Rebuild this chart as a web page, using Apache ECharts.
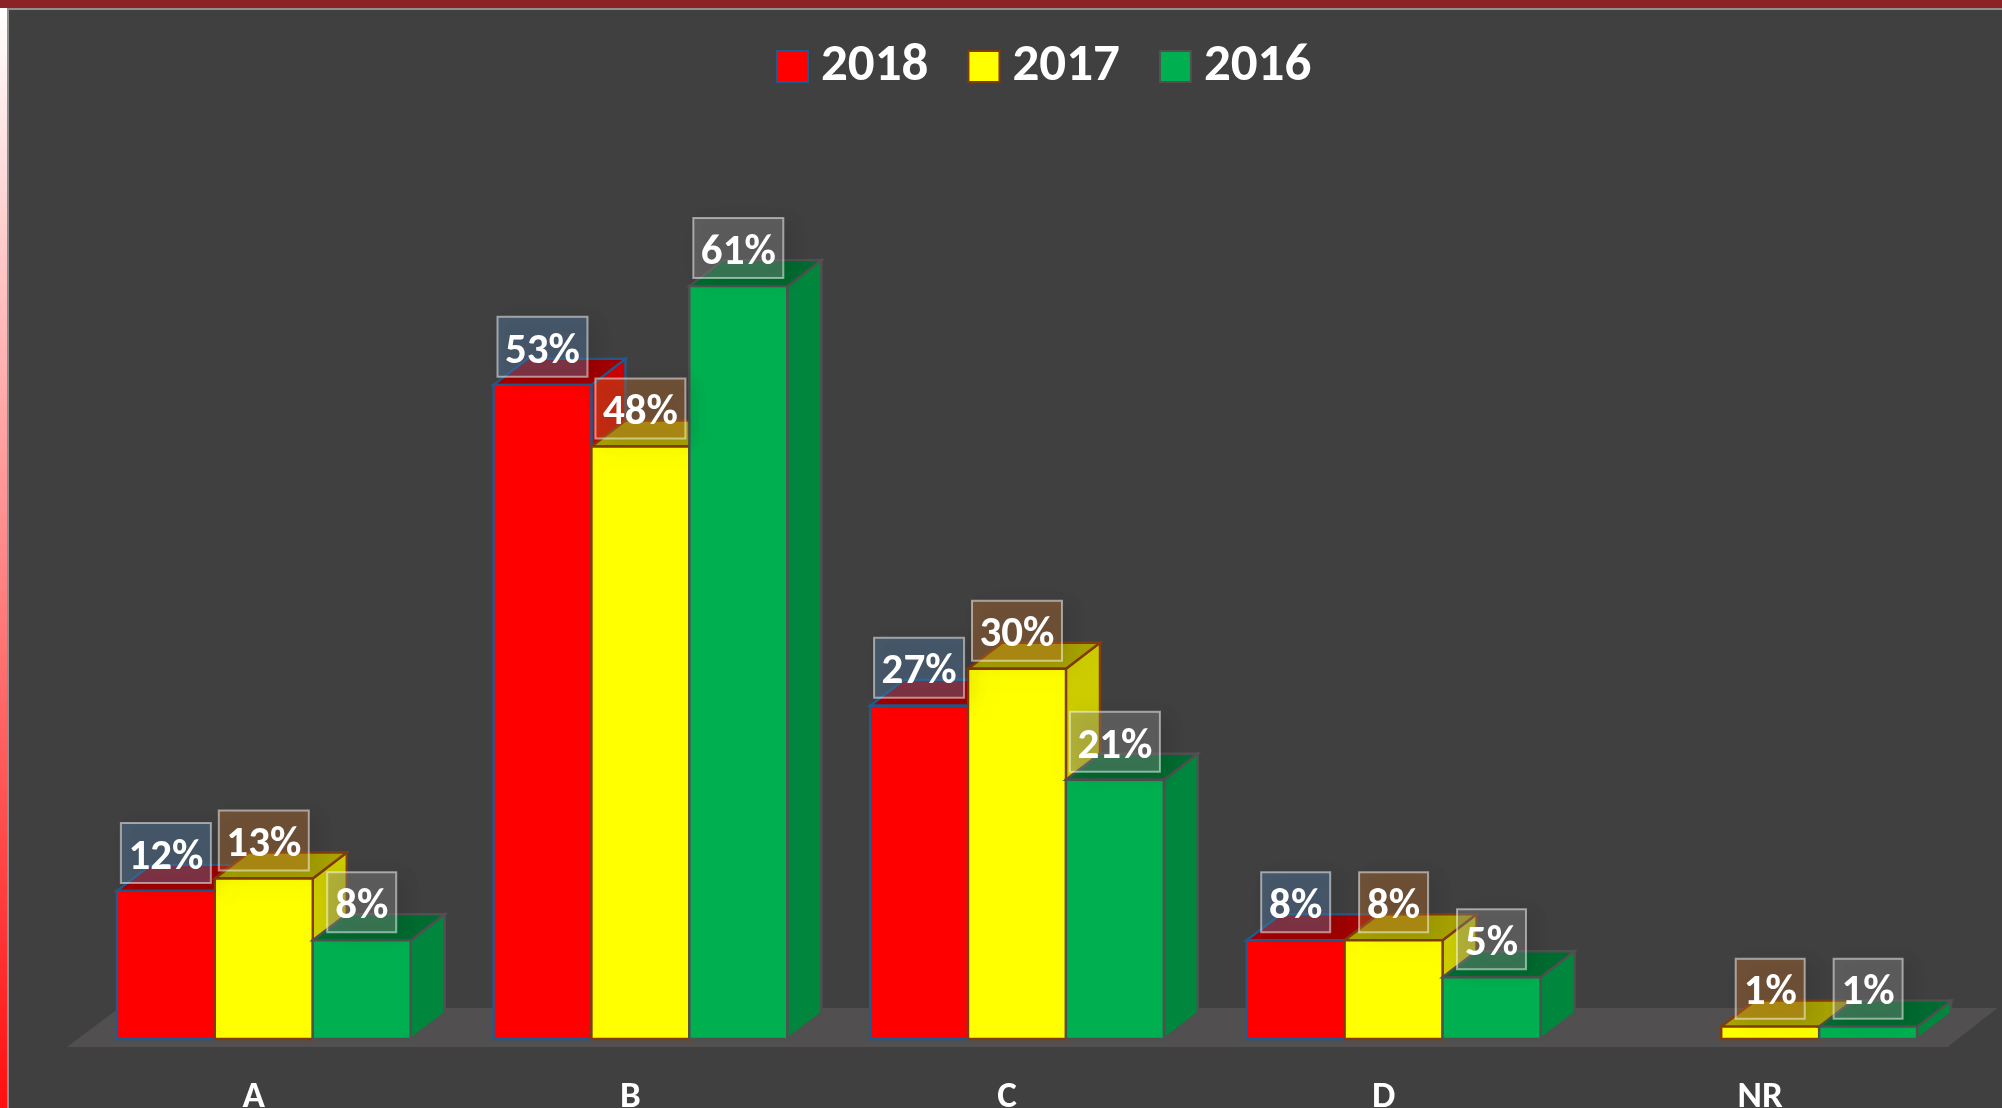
<!DOCTYPE html>
<html><head><meta charset="utf-8">
<style>html,body{margin:0;padding:0;background:#404040}#c{width:2002px;height:1108px}</style>
<script src="https://cdn.jsdelivr.net/npm/echarts@6/dist/echarts.min.js"></script>
</head><body><div id="c"></div>
<script>
const categories = ['A','B','C','D','NR'];
const years = ['2018','2017','2016'];
const values2018 = [12,53,27,8,null];
const values2017 = [13,48,30,8,1];
const values2016 = [8,61,21,5,1];
const seriesValues = [values2018, values2017, values2016];
const FONT = 'Carlito, Lato, sans-serif';
const palette = [
 {front:'#ff0000', top:'#a30000', side:'#cf0000', edge:'#215a8c', box:'rgba(82,128,172,0.39)'},
 {front:'#ffff00', top:'#a8a300', side:'#cccc00', edge:'#843c0c', box:'rgba(187,110,46,0.39)'},
 {front:'#00b050', top:'#006b30', side:'#00873d', edge:'#505050', box:'rgba(141,141,141,0.39)'}
];
const DX = 34, DY = 26, BAR_RATIO = 0.26;

function barGeom(api, s){
  const p = api.coord([api.value(0), api.value(1)]);
  const base = api.coord([api.value(0), 0]);
  const w = api.size([1,0])[0] * BAR_RATIO;
  return {x: p[0] + (s-1.5)*w, y: p[1], w, b: base[1]};
}
function renderBar(s){
  return function(params, api){
    if (isNaN(api.value(1))) return;
    const g = barGeom(api, s), c = palette[s];
    const line = {stroke:c.edge, lineWidth:2.4, lineJoin:'miter'};
    return {type:'group', children:[
      {type:'polygon', shape:{points:[[g.x+g.w,g.y],[g.x+g.w+DX,g.y-DY],[g.x+g.w+DX,g.b-DY],[g.x+g.w,g.b]]},
       style:Object.assign({fill:c.side},line)},
      {type:'polygon', shape:{points:[[g.x,g.y],[g.x+DX,g.y-DY],[g.x+g.w+DX,g.y-DY],[g.x+g.w,g.y]]},
       style:Object.assign({fill:c.top},line)},
      {type:'rect', shape:{x:g.x,y:g.y,width:g.w,height:g.b-g.y},
       style:Object.assign({fill:c.front},line)}
    ]};
  };
}
function renderLabel(s){
  return function(params, api){
    if (isNaN(api.value(1))) return;
    const g = barGeom(api, s), c = palette[s];
    const txt = api.value(1) + '%';
    const w = txt.length === 3 ? 90 : 69, h = 60;
    const cx = g.x + g.w/2, by = g.y - 8;
    return {type:'group', children:[
      {type:'rect', shape:{x:cx-w/2,y:by-h,width:w,height:h},
       style:{fill:c.box, stroke:'rgba(255,255,255,0.5)', lineWidth:2,
              shadowBlur:18, shadowColor:'rgba(0,0,0,0.22)', shadowOffsetX:8, shadowOffsetY:4}},
      {type:'text', x:cx, y:by-h/2+5,
       style:{text:txt, fill:'#fff', font:'bold 43px '+FONT, align:'center', verticalAlign:'middle'}}
    ]};
  };
}
function renderFloor(params, api){
  const cs = params.coordSys;
  const b = cs.y + cs.height;
  const yb = b + 8, yt = b - 31;
  const xl = cs.x - 8.5, xr = cs.x + cs.width - 11;
  return {type:'polygon', shape:{points:[[xl,yb],[xl+52,yt],[xr+50,yt],[xr,yb]]}, style:{fill:'#514f4f'}};
}
const series = [{type:'custom', name:'floor', data:[[0,0]], encode:{x:0,y:1}, renderItem:renderFloor, silent:true, z:1, clip:false}];
years.forEach((y,s)=>{
  series.push({type:'custom', name:y, coordinateSystem:'cartesian2d', clip:false, silent:true, z:2+s,
    itemStyle:{color:palette[s].front}, encode:{x:0,y:1},
    data:seriesValues[s].map((v,i)=>[i,v]), renderItem:renderBar(s)});
});
years.forEach((y,s)=>{
  series.push({type:'custom', name:y+' labels', clip:false, silent:true, z:10+s, encode:{x:0,y:1},
    data:seriesValues[s].map((v,i)=>[i,v]), renderItem:renderLabel(s)});
});
const chart = echarts.init(document.getElementById('c'), null, {renderer:'canvas'});
chart.setOption({
  animation:false,
  backgroundColor:'#404040',
  graphic:[
    {type:'rect', z:-3, shape:{x:0,y:8,width:8,height:1100}, style:{fill:new echarts.graphic.LinearGradient(0,0,0,1,[{offset:0,color:'#ffffff'},{offset:1,color:'#ff0f0f'}])}},
    {type:'rect', z:-3, shape:{x:0,y:0,width:2002,height:8}, style:{fill:'#8b2326'}},
    {type:'rect', z:-2, shape:{x:8,y:9,width:2000,height:1110}, style:{fill:'#404040', stroke:'#8f8f8f', lineWidth:2}}
  ],
  legend:{
    left:771, top:35, itemWidth:31, itemHeight:31, itemGap:39, icon:'rect',
    textStyle:{color:'#fff', fontWeight:'bold', fontSize:53, fontFamily:FONT, padding:[0,0,6,8]},
    data:years.map((y,s)=>({name:y, icon:'rect', itemStyle:{color:palette[s].front, borderColor:palette[s].edge, borderWidth:2}}))
  },
  grid:{left:75.5, width:1883, top:175, height:864, outerBoundsMode:'none'},
  xAxis:{type:'category', data:categories, axisLine:{show:false}, axisTick:{show:false},
    axisLabel:{color:'#fff', fontWeight:'bold', fontSize:37, fontFamily:FONT, margin:40, padding:[0,20,0,0]}},
  yAxis:{type:'value', min:0, max:70, show:false},
  series
});
</script></body></html>
